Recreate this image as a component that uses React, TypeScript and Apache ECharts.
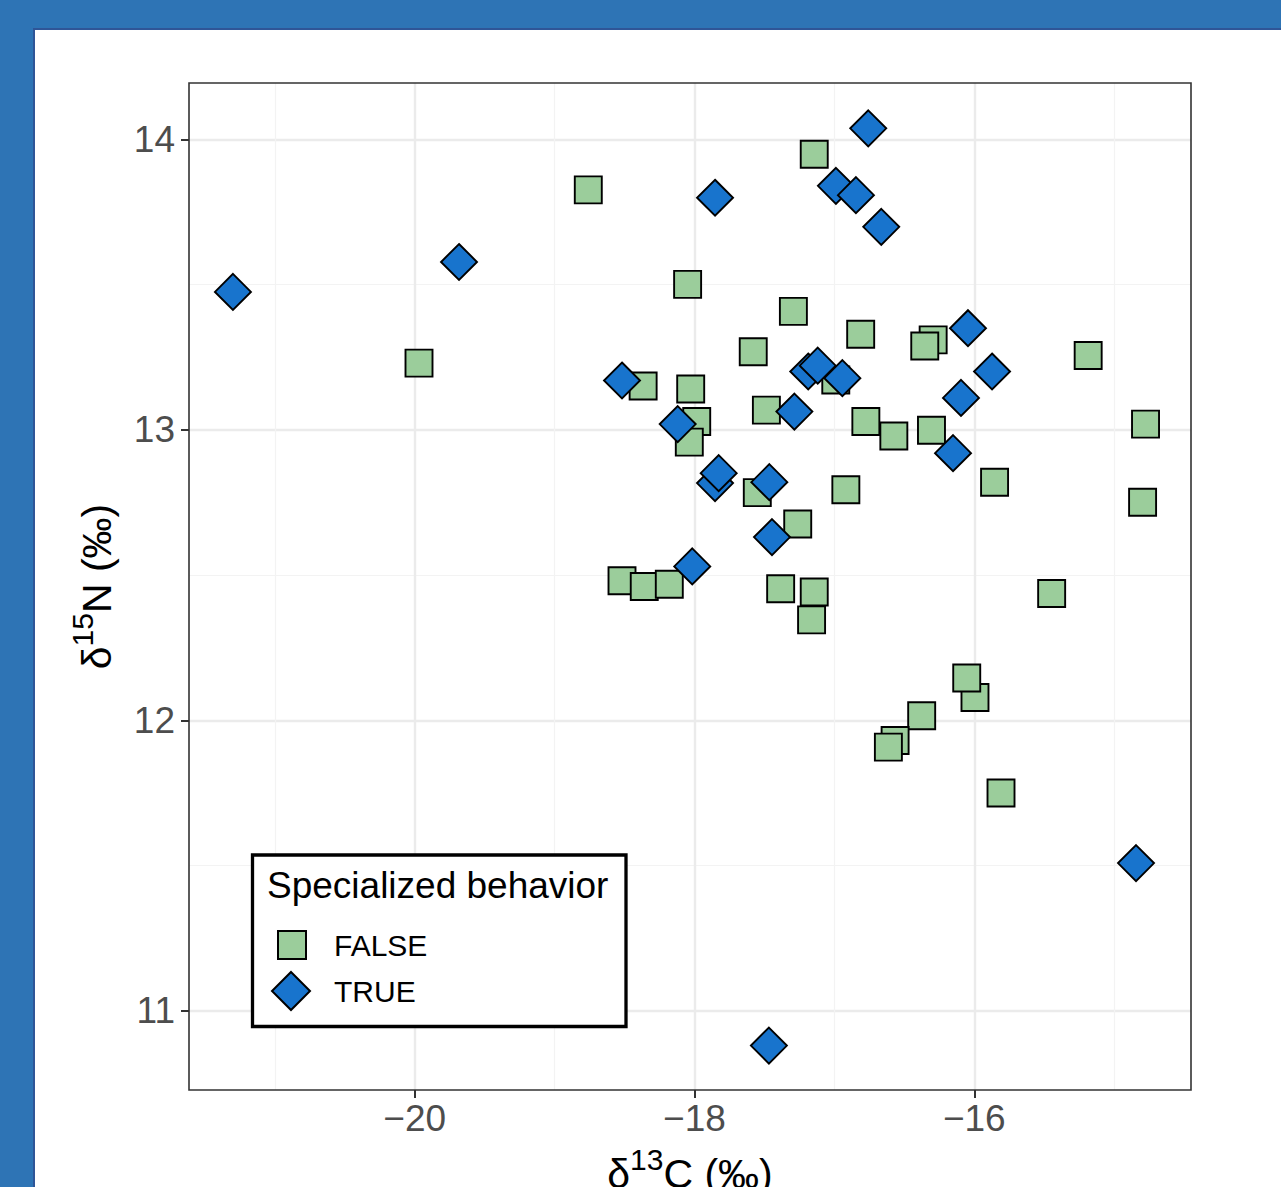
import React, { useEffect, useRef } from "react";
import * as echarts from "echarts";

// ---- data ----
const xTicks = [-20, -18, -16];
const yTicks = [11, 12, 13, 14];
const xRange = [-21.613, -14.451];
const yRange = [10.728, 14.194];

const groupNames = ["FALSE", "TRUE"];
const legendTitle = "Specialized behavior";

// Specialized behavior = FALSE (squares)
const falseC13 = [
  -18.759, -17.144, -18.049, -17.293, -16.812, -16.294, -16.354, -17.58,
  -18.367, -18.027, -17.984, -18.037, -17.486, -16.99, -16.775, -16.575,
  -16.306, -15.855, -16.918, -17.551, -17.262, -18.518, -18.359, -18.18,
  -17.384, -17.144, -17.163, -15.186, -14.776, -14.797, -15.447, -15.995,
  -16.054, -16.376, -16.566, -16.614, -15.809, -19.969,
];
const falseN15 = [
  13.826, 13.949, 13.501, 13.408, 13.329, 13.31, 13.289, 13.269,
  13.151, 13.141, 13.029, 12.958, 13.068, 13.172, 13.029, 12.979,
  12.999, 12.82, 12.794, 12.784, 12.676, 12.481, 12.461, 12.469,
  12.453, 12.442, 12.346, 13.256, 13.02, 12.751, 12.437, 12.079,
  12.146, 12.016, 11.931, 11.908, 11.75, 13.23,
];

// Specialized behavior = TRUE (diamonds)
const trueC13 = [
  -21.299, -19.683, -17.853, -16.758, -16.989, -16.846, -16.665, -16.045,
  -15.873, -16.095, -16.152, -18.518, -18.12, -17.187, -17.119, -16.943,
  -17.286, -17.853, -17.827, -17.465, -17.446, -18.016, -14.844, -17.468,
];
const trueN15 = [
  13.475, 13.578, 13.799, 14.038, 13.84, 13.808, 13.699, 13.35,
  13.201, 13.11, 12.92, 13.17, 13.02, 13.201, 13.221, 13.178,
  13.063, 12.817, 12.851, 12.82, 12.631, 12.53, 11.509, 10.881,
];

const FONT = '"Liberation Sans", Arial, Helvetica, sans-serif';
const GREEN = "#9BCD9B";
const BLUE = "#1874CD";

const minus = (v: number) => (v < 0 ? "\u2212" + Math.abs(v) : String(v));

function buildOption() {
  const falseData = falseC13.map((x, i) => [x, falseN15[i]]);
  const trueData = trueC13.map((x, i) => [x, trueN15[i]]);

  const nameRich = {
    d: { fontSize: 41, lineHeight: 60, color: "#000", fontFamily: FONT, verticalAlign: "middle" },
    s: { fontSize: 30, lineHeight: 30, color: "#000", fontFamily: FONT, verticalAlign: "top" },
  };

  return {
    animation: false,
    textStyle: { fontFamily: FONT },
    grid: {
      left: 189,
      top: 83,
      width: 1002,
      height: 1007,
      show: false,
      containLabel: false,
      outerBoundsMode: "none",
    },
    xAxis: {
      type: "value",
      min: xRange[0],
      max: xRange[1],
      splitNumber: 4,
      axisLine: { show: false },
      axisTick: {
        show: true,
        length: 8,
        customValues: xTicks,
        lineStyle: { color: "#333333", width: 2 },
      },
      axisLabel: {
        customValues: xTicks,
        fontSize: 37,
        color: "#4d4d4d",
        margin: 10,
        fontFamily: FONT,
        formatter: (v: number) => minus(v),
      },
      splitLine: { show: true, lineStyle: { color: "#ebebeb", width: 2.4 } },
      minorTick: { show: false, splitNumber: 2 },
      minorSplitLine: { show: true, lineStyle: { color: "#f3f3f3", width: 1.2 } },
      name: "{d|δ}{s|13}{d|C (‰)}",
      nameLocation: "middle",
      nameGap: 54,
      nameTextStyle: { rich: nameRich },
    },
    yAxis: {
      type: "value",
      min: yRange[0],
      max: yRange[1],
      splitNumber: 4,
      axisLine: { show: false },
      axisTick: {
        show: true,
        length: 8,
        customValues: yTicks,
        lineStyle: { color: "#333333", width: 2 },
      },
      axisLabel: {
        customValues: yTicks,
        fontSize: 37,
        color: "#4d4d4d",
        margin: 14,
        fontFamily: FONT,
        formatter: (v: number) => minus(v),
      },
      splitLine: { show: true, lineStyle: { color: "#ebebeb", width: 2.4 } },
      minorTick: { show: false, splitNumber: 2 },
      minorSplitLine: { show: true, lineStyle: { color: "#f3f3f3", width: 1.2 } },
      name: "{d|δ}{s|15}{d|N (‰)}",
      nameLocation: "middle",
      nameRotate: 90,
      nameGap: 62,
      nameTextStyle: { rich: nameRich },
    },
    legend: [
      {
        data: [groupNames[0]],
        left: 277,
        top: 930,
        padding: 0,
        itemWidth: 28,
        itemHeight: 28,
        selectedMode: false,
        z: 10,
        formatter: "{p|{name}}",
        textStyle: {
          fontSize: 30,
          color: "#000",
          fontFamily: FONT,
          rich: { p: { fontSize: 30, color: "#000", fontFamily: FONT, padding: [0, 0, 0, 23] } },
        },
      },
      {
        data: [groupNames[1]],
        left: 271,
        top: 971,
        padding: 0,
        itemWidth: 38,
        itemHeight: 38,
        selectedMode: false,
        z: 10,
        formatter: "{p|{name}}",
        textStyle: {
          fontSize: 30,
          color: "#000",
          fontFamily: FONT,
          rich: { p: { fontSize: 30, color: "#000", fontFamily: FONT, padding: [0, 0, 0, 19] } },
        },
      },
    ],
    graphic: [
      {
        type: "rect",
        z: 3,
        silent: true,
        shape: { x: 189, y: 83, width: 1002, height: 1007 },
        style: { fill: "none", stroke: "#333333", lineWidth: 1.6 },
      },
      {
        type: "rect",
        z: 3,
        silent: true,
        shape: { x: 252.5, y: 855, width: 373.5, height: 171.5 },
        style: { fill: "#ffffff", stroke: "#000000", lineWidth: 3.3 },
      },
      {
        type: "text",
        z: 4,
        silent: true,
        x: 267,
        y: 885,
        style: {
          text: legendTitle,
          fontSize: 37,
          fontFamily: FONT,
          fill: "#000",
          align: "left",
          verticalAlign: "middle",
        },
      },
    ],
    series: [
      {
        type: "scatter",
        name: groupNames[0],
        symbol: "rect",
        symbolSize: 27,
        data: falseData,
        z: 2,
        itemStyle: { color: GREEN, borderColor: "#000", borderWidth: 1.9, opacity: 1 },
        emphasis: { disabled: true },
      },
      {
        type: "scatter",
        name: groupNames[1],
        symbol: "diamond",
        symbolSize: 36,
        data: trueData,
        z: 2,
        itemStyle: { color: BLUE, borderColor: "#000", borderWidth: 1.9, opacity: 1 },
        emphasis: { disabled: true },
      },
    ],
  };
}

export default function App() {
  const ref = useRef<HTMLDivElement>(null);
  useEffect(() => {
    const el = ref.current;
    if (!el) return;
    const chart = echarts.init(el, null, { renderer: "svg" });
    chart.setOption(buildOption() as any);
    return () => chart.dispose();
  }, []);
  return (
    <div
      style={{
        position: "absolute",
        left: 0,
        top: 0,
        width: 1281,
        height: 1187,
        background: "#2E74B5",
        overflow: "hidden",
      }}
    >
      <div
        style={{
          position: "absolute",
          left: 33,
          top: 28,
          right: 0,
          bottom: 0,
          background: "#ffffff",
          borderLeft: "2px solid #2F5597",
          borderTop: "2px solid #2F5597",
        }}
      />
      <div ref={ref} style={{ position: "absolute", left: 0, top: 0, width: 1281, height: 1187 }} />
    </div>
  );
}
